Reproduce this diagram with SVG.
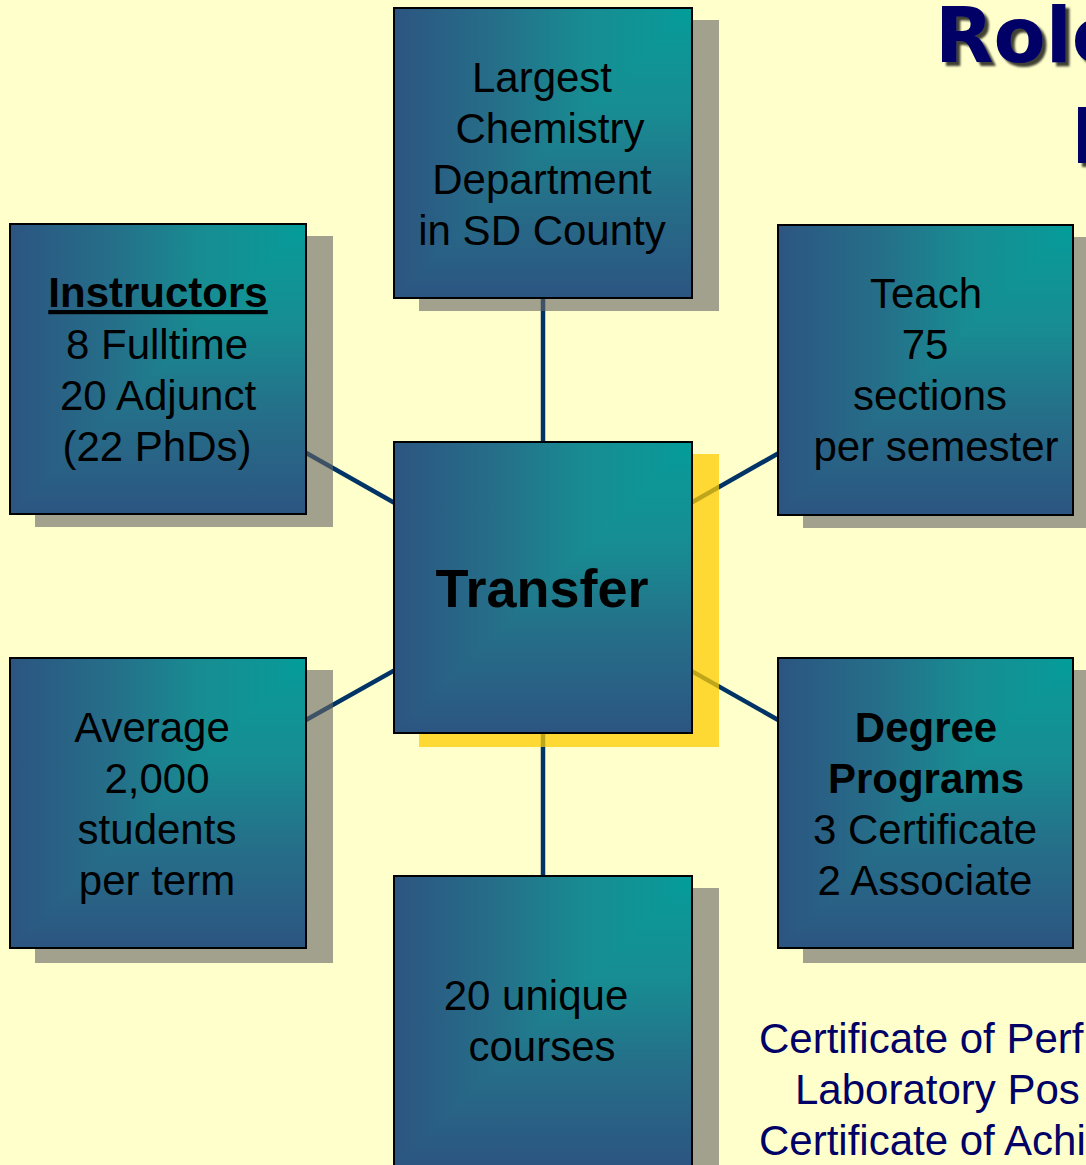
<svg xmlns="http://www.w3.org/2000/svg" width="1086" height="1165" viewBox="0 0 1086 1165">
<defs>
<linearGradient id="gh" x1="1" y1="0" x2="0" y2="0">
<stop offset="0" stop-color="#009e9a"/>
<stop offset="0.1" stop-color="#0c9797"/>
<stop offset="0.35" stop-color="#178d92"/>
<stop offset="0.65" stop-color="#256f89"/>
<stop offset="1" stop-color="#2c5581"/>
</linearGradient>
<linearGradient id="gv" x1="0" y1="0" x2="0" y2="1">
<stop offset="0" stop-color="#009e9a"/>
<stop offset="0.1" stop-color="#0c9797"/>
<stop offset="0.35" stop-color="#178d92"/>
<stop offset="0.65" stop-color="#256f89"/>
<stop offset="1" stop-color="#2c5581"/>
</linearGradient>
<filter id="ts" x="-10%" y="-10%" width="130%" height="130%">
<feDropShadow dx="4" dy="4" stdDeviation="1.2" flood-color="#000" flood-opacity="0.75"/>
</filter>
</defs>
<style>
.bg{fill:#ffffcc}
.sh{fill:#666666;fill-opacity:0.61}
.shy{fill:#ffcc00;fill-opacity:0.75}
.gh{fill:url(#gh)}
.gv{fill:url(#gv)}
.bd{fill:none;stroke:#000;stroke-width:2}
.con{stroke:#003366;stroke-width:4.5;fill:none}
.t{font-family:"Liberation Sans",Arial,sans-serif;font-size:42px;fill:#000;text-anchor:middle}
.b{font-weight:bold}
.u{text-decoration:underline}
.big{font-size:54px}
.title{font-family:"DejaVu Sans",Verdana,sans-serif;font-weight:bold;font-size:76px;fill:#000066}
.note{font-family:"Liberation Sans",Arial,sans-serif;font-size:42px;fill:#000066}
</style>
<rect class="bg" x="0" y="0" width="1086" height="1165"/>

<g id="title" filter="url(#ts)">
<text class="title" x="935" y="62">Role</text>
<text class="title" x="1071" y="163">D</text>
</g>

<g id="connectors">
<line class="con" x1="543" y1="153" x2="543" y2="587"/>
<line class="con" x1="543" y1="587" x2="543" y2="1020"/>
<line class="con" x1="158" y1="369" x2="543" y2="587"/>
<line class="con" x1="925" y1="370" x2="543" y2="587"/>
<line class="con" x1="158" y1="803" x2="543" y2="587"/>
<line class="con" x1="925" y1="803" x2="543" y2="587"/>
</g>

<g id="node-top">
<rect class="sh" x="419" y="20" width="300" height="291"/>
<rect class="gv" x="394" y="8" width="298" height="290"/>
<polygon class="gh" points="394,8 692,8 394,298"/>
<rect class="bd" x="394" y="8" width="298" height="290"/>
<text class="t" x="542" y="92">Largest</text>
<text class="t" x="550" y="143">Chemistry</text>
<text class="t" x="542" y="194">Department</text>
<text class="t" x="542" y="245">in SD County</text>
</g>

<g id="node-instructors">
<rect class="sh" x="35" y="236" width="298" height="291"/>
<rect class="gv" x="10" y="224" width="296" height="290"/>
<polygon class="gh" points="10,224 306,224 10,514"/>
<rect class="bd" x="10" y="224" width="296" height="290"/>
<text class="t b u" x="158" y="307">Instructors</text>
<text class="t" x="157" y="359">8 Fulltime</text>
<text class="t" x="158" y="410">20 Adjunct</text>
<text class="t" x="157" y="461">(22 PhDs)</text>
</g>

<g id="node-teach">
<rect class="sh" x="803" y="237" width="297" height="291"/>
<rect class="gv" x="778" y="225" width="295" height="290"/>
<polygon class="gh" points="778,225 1073,225 778,515"/>
<rect class="bd" x="778" y="225" width="295" height="290"/>
<text class="t" x="926" y="308">Teach</text>
<text class="t" x="925" y="359">75</text>
<text class="t" x="930" y="410">sections</text>
<text class="t" x="936" y="461">per semester</text>
</g>

<g id="node-transfer">
<rect class="shy" x="419" y="454" width="300" height="293"/>
<rect class="gv" x="394" y="442" width="298" height="291"/>
<polygon class="gh" points="394,442 692,442 394,733"/>
<rect class="bd" x="394" y="442" width="298" height="291"/>
<text class="t b big" x="542" y="607">Transfer</text>
</g>

<g id="node-average">
<rect class="sh" x="35" y="670" width="298" height="293"/>
<rect class="gv" x="10" y="658" width="296" height="290"/>
<polygon class="gh" points="10,658 306,658 10,948"/>
<rect class="bd" x="10" y="658" width="296" height="290"/>
<text class="t" x="152" y="742">Average</text>
<text class="t" x="157" y="793">2,000</text>
<text class="t" x="157" y="844">students</text>
<text class="t" x="157" y="895">per term</text>
</g>

<g id="node-degree">
<rect class="sh" x="803" y="670" width="297" height="293"/>
<rect class="gv" x="778" y="658" width="295" height="290"/>
<polygon class="gh" points="778,658 1073,658 778,948"/>
<rect class="bd" x="778" y="658" width="295" height="290"/>
<text class="t b" x="926" y="742">Degree</text>
<text class="t b" x="926" y="793">Programs</text>
<text class="t" x="925" y="844">3 Certificate</text>
<text class="t" x="925" y="895">2 Associate</text>
</g>

<g id="node-courses">
<rect class="sh" x="419" y="888" width="300" height="291"/>
<rect class="gv" x="394" y="876" width="298" height="290"/>
<polygon class="gh" points="394,876 692,876 394,1166"/>
<rect class="bd" x="394" y="876" width="298" height="290"/>
<text class="t" x="536" y="1010">20 unique</text>
<text class="t" x="542" y="1061">courses</text>
</g>

<g id="certificates">
<text class="note" x="759" y="1053">Certificate of Perf</text>
<text class="note" x="795" y="1104">Laboratory Pos</text>
<text class="note" x="759" y="1155">Certificate of Achi</text>
</g>
</svg>
